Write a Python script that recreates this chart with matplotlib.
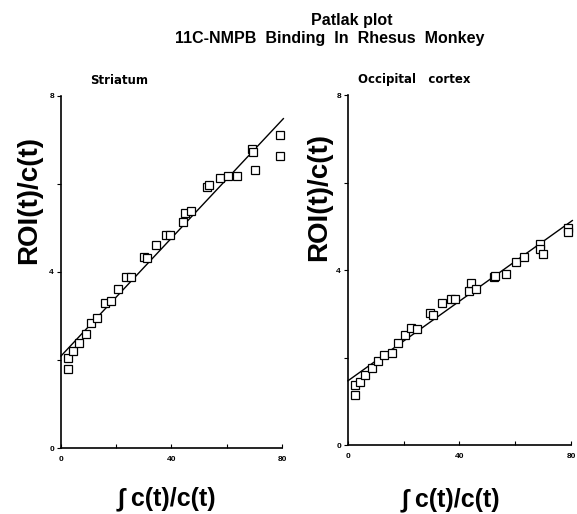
import matplotlib.pyplot as plt
import numpy as np

plt.rcParams['font.family'] = ['Liberation Sans', 'DejaVu Sans']

# Striatum
str_x = [2.4, 2.4, 4.5, 6.5, 8.9, 10.9, 13.2, 15.9, 18.2, 20.8, 23.4, 25.5, 30.2, 31.3, 34.4,
         38.0, 39.6, 44.3, 45.0, 46.9, 52.8, 53.4, 57.5, 60.6, 63.7, 69.3, 69.5, 70.2, 79.4, 79.3]
str_y = [2.04, 1.80, 2.20, 2.38, 2.59, 2.83, 2.96, 3.29, 3.33, 3.61, 3.88, 3.89, 4.35, 4.32, 4.62,
         4.83, 4.85, 5.14, 5.33, 5.39, 5.94, 5.97, 6.13, 6.19, 6.18, 6.80, 6.72, 6.32, 7.11, 6.64]
str_fit = (2.09, 0.067)   # intercept, slope

# Occipital cortex
occ_x = [2.4, 2.4, 4.4, 6.3, 8.6, 10.8, 12.8, 15.7, 17.8, 20.5, 22.8, 24.8, 29.3, 30.6, 33.6,
         37.0, 38.4, 43.5, 44.1, 46.1, 52.4, 52.8, 56.6, 60.3, 63.2, 68.9, 68.9, 69.8, 79.0, 78.8]
occ_y = [1.37, 1.15, 1.44, 1.60, 1.76, 1.93, 2.06, 2.11, 2.34, 2.52, 2.68, 2.66, 3.02, 2.98, 3.24,
         3.34, 3.35, 3.53, 3.70, 3.57, 3.85, 3.87, 3.92, 4.18, 4.29, 4.60, 4.48, 4.36, 4.97, 4.86]
occ_fit = (1.47, 0.0455)

x_ticks = [0, 20, 40, 60, 80]
x_ticklabels = ['0', '', '40', '', '80']
y_ticks = [0, 2, 4, 6, 8]
y_ticklabels = ['0', '', '4', '', '8']

fig = plt.figure(figsize=(5.77, 5.14), dpi=100)
ax1 = fig.add_axes([0.1057, 0.1284, 0.383, 0.685])
ax2 = fig.add_axes([0.603, 0.134, 0.3865, 0.681])

# axes, x, y, fit, title, title x, ylabel pos, xlabel pos
panels = [(ax1, str_x, str_y, str_fit, 'Striatum', 0.13, (-0.086, 0.705), (0.48, -0.11)),
          (ax2, occ_x, occ_y, occ_fit, 'Occipital   cortex', 0.045, (-0.072, 0.71), (0.46, -0.12))]

for ax, xs, ys, fit, name, tx, ylpos, xlpos in panels:
    line_x = np.array([0, 80.5])
    ax.plot(line_x, fit[0] + fit[1] * line_x, color='black', lw=1.0, zorder=2, clip_on=False)
    ax.plot(xs, ys, 's', ms=5.3, mfc='white', mec='black', mew=0.9, zorder=3, clip_on=False)
    ax.set_xlim(0, 80)
    ax.set_ylim(0, 8)
    ax.spines['top'].set_visible(False)
    ax.spines['right'].set_visible(False)
    ax.spines['left'].set_linewidth(1.2)
    ax.spines['bottom'].set_linewidth(1.2)
    ax.set_xticks(x_ticks)
    ax.set_xticklabels(x_ticklabels)
    ax.set_yticks(y_ticks)
    ax.set_yticklabels(y_ticklabels)
    ax.tick_params(axis='x', direction='in', length=3, labelsize=6, pad=6)
    ax.tick_params(axis='y', direction='out', length=3, labelsize=6, pad=2)
    for lbl in ax.get_xticklabels() + ax.get_yticklabels():
        lbl.set_fontweight('bold')
    ax.set_ylabel('ROI(t)/c(t)', fontsize=20, fontweight='bold')
    ax.yaxis.set_label_coords(*ylpos)
    ax.set_xlabel('\u222b c(t)/c(t)', fontsize=18, fontweight='bold')
    ax.xaxis.set_label_coords(*xlpos)
    ax.text(tx, 1.025, name, transform=ax.transAxes, fontsize=8.5, family='DejaVu Sans',
            fontweight='bold', ha='left', va='bottom')

fig.text(0.61, 0.96, 'Patlak plot', ha='center', va='center', fontsize=11.5, fontweight='bold')
fig.text(0.572, 0.925, '11C-NMPB  Binding  In  Rhesus  Monkey', ha='center', va='center',
         fontsize=11.5, fontweight='bold')

plt.savefig('out.png', dpi=100)
